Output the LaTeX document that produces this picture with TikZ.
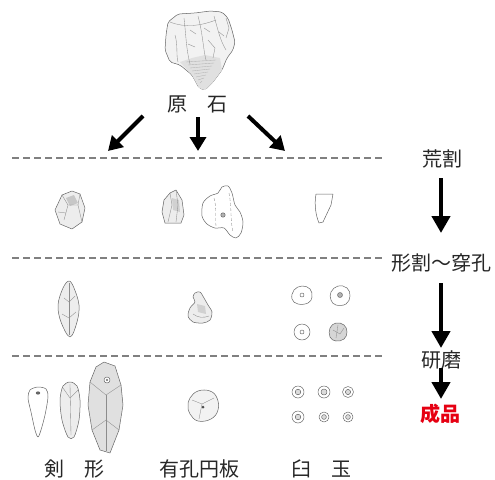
\documentclass[tikz,border=0pt]{standalone}
\usepackage{fontspec}
\newfontfamily\cjk{Noto Sans CJK JP}
\usetikzlibrary{arrows.meta}
\definecolor{stagered}{HTML}{E60012}
\begin{document}
\begin{tikzpicture}[x=1pt,y=-1pt,
  lbl/.style={font=\cjk\fontsize{20}{22}\selectfont, inner sep=0pt, text=black!85},
  sep/.style={draw=black!50, line width=2pt, dash pattern=on 7pt off 4pt},
  stagearrow/.style={line width=4.5pt, -{Triangle[width=18pt,length=17pt]}},
  splitarrow/.style={line width=4pt, -{Triangle[width=16pt,length=14pt]}},
  sk/.style={draw=black!60, line width=0.5pt, line join=round},
  skin/.style={draw=black!45, line width=0.35pt},
  shade/.style={fill=black!7},
  dark/.style={fill=black!16}]
\useasboundingbox (0,0) rectangle (495,479);

% ---------- raw stone ----------
\draw[sk, fill=black!5, rounded corners=2pt] (168,22) -- (178,14) -- (195,13) -- (210,11) -- (222,12)
  -- (228,18) -- (232,30) -- (235,42) -- (233,50) -- (227,58) -- (222,70) -- (213,82)
  -- (205,90) -- (199,88) -- (192,75) -- (180,65) -- (170,62) -- (165,50) -- (166,35) -- cycle;
\fill[black!12] (180,62) -- (192,58) -- (205,55) -- (220,58) -- (222,70) -- (213,82) -- (205,90) -- (199,88) -- (192,75) -- cycle;
\foreach \i in {0,...,7}{
  \draw[skin, black!30] (186+2*\i,62+3*\i) -- (216-2*\i,60+3*\i);
}
\draw[skin] (170,22) .. controls (185,28) and (200,26) .. (216,20);
\draw[skin] (184,18) .. controls (186,35) and (186,48) .. (190,64);
\draw[skin] (198,16) .. controls (203,35) and (203,48) .. (206,60);
\draw[skin] (214,16) .. controls (218,30) and (220,40) .. (226,50);
\draw[skin] (226,18) -- (229,28) -- (226,38);
\draw[skin] (175,35) .. controls (178,45) and (176,55) .. (178,62);
\draw[skin] (208,40) -- (215,48) -- (213,58);
\draw[skin] (190,30) -- (196,34); \draw[skin] (188,44) -- (195,47);
\draw[skin] (204,28) -- (210,32); \draw[skin] (219,32) -- (224,36);
\node[lbl] (raw) at (197,104) {原\hspace{1em}石};

% ---------- splitting arrows ----------
\coordinate (sL) at (143,116);
\coordinate (sM) at (198,117);
\coordinate (sR) at (248,116);
\coordinate (eL) at (108,151);
\coordinate (eM) at (198,151);
\coordinate (eR) at (285,151);
\draw[splitarrow] (sL) -- (eL);
\draw[splitarrow] (sM) -- (eM);
\draw[splitarrow] (sR) -- (eR);

% ---------- stage separators ----------
\coordinate (d1a) at (12,158);  \coordinate (d1b) at (383,158);
\coordinate (d2a) at (12,258);  \coordinate (d2b) at (383,258);
\coordinate (d3a) at (12,356);  \coordinate (d3b) at (383,356);
\draw[sep] (d1a) -- (d1b);
\draw[sep] (d2a) -- (d2b);
\draw[sep] (d3a) -- (d3b);

% ---------- process column ----------
\node[lbl] (p1) at (442,159) {荒割};
\node[lbl] (p2) at (441,263) {形割～穿孔};
\node[lbl] (p3) at (441,360) {研磨};
\node[lbl, text=stagered, font=\cjk\bfseries\fontsize{20}{22}\selectfont] (p4) at (440,414) {成品};
\coordinate (a1s) at (441,178); \coordinate (a1e) at (441,233);
\coordinate (a2s) at (441,283); \coordinate (a2e) at (441,348);
\coordinate (a3s) at (441,368); \coordinate (a3e) at (441,399);
\draw[stagearrow] (a1s) -- (a1e);
\draw[stagearrow] (a2s) -- (a2e);
\draw[stagearrow] (a3s) -- (a3e);

% ---------- rough-split pieces ----------
\draw[sk, shade] (62,195) -- (72,191) -- (80,194) -- (85,208) -- (82,222) -- (72,229) -- (60,224) -- (55,210) -- cycle;
\fill[black!22] (66,198) -- (74,195) -- (78,203) -- (70,206) -- cycle;
\draw[skin] (62,195) -- (68,205) -- (78,205) -- (80,194);
\draw[skin] (68,205) -- (64,220);
\draw[skin] (78,205) -- (82,222);
\draw[skin] (58,212) -- (66,213);

\draw[sk, shade] (170,193) -- (176,190) -- (182,200) -- (184,215) -- (181,223) -- (165,223) -- (162,212) -- (164,200) -- cycle;
\fill[black!18] (172,198) -- (179,200) -- (180,212) -- (173,210) -- cycle;
\draw[skin] (170,193) -- (172,205) -- (168,222);
\draw[skin] (176,190) -- (178,205) -- (176,222);

\draw[sk, fill=white] plot[smooth cycle, tension=0.5] coordinates {(222,187) (228,186) (232,193) (235,205)
  (240,212) (243,222) (241,233) (236,238) (230,235) (224,228) (215,228) (207,224) (202,216)
  (203,203) (210,196) (218,193)};
\draw[skin, densely dashed] (214,198) .. controls (217,208) and (215,218) .. (216,226);
\draw[skin, densely dashed] (229,193) .. controls (232,208) and (230,220) .. (233,232);
\draw[sk, fill=black!30] (223,215) circle (2.2pt);

\draw[sk] (316,194) -- (333,194) -- (331,205) -- (323,222) -- (319,223) .. controls (316,216) and (314,205) .. (316,194) -- cycle;

% ---------- shaped / drilled pieces ----------
\draw[sk, shade] plot[smooth cycle, tension=0.6] coordinates {(69,281) (74,288) (79,305) (77,322)
  (70,337) (61,322) (58,305) (63,288)};
\draw[skin] (69,283) -- (69,335);
\draw[skin] (64,298) -- (69,302) -- (75,296);
\draw[skin] (62,314) -- (69,318) -- (76,312);

\draw[sk, shade] plot[smooth cycle, tension=0.5] coordinates {(195,293) (200,292) (204,298) (208,305)
  (212,312) (210,320) (203,323) (193,322) (188,316) (190,308) (195,302) (193,297)};
\fill[black!18] (197,304) -- (205,306) -- (206,314) -- (198,312) -- cycle;
\draw[skin] (193,314) .. controls (198,318) and (204,318) .. (209,316);

\draw[sk] plot[smooth cycle, tension=0.7] coordinates {(294,290) (302,286) (310,289) (312,297) (308,303) (298,304) (292,299)};
\draw[sk] (302,295) circle (2pt);
\draw[sk] plot[smooth cycle, tension=0.7] coordinates {(331,292) (338,286) (347,288) (350,296) (346,304) (336,305) (331,300)};
\draw[sk, fill=black!30] (340,295) circle (2.5pt);
\draw[sk] (302,332) circle (8pt);
\draw[sk] (302,332) circle (2pt);
\draw[sk, dark] plot[smooth cycle, tension=0.7] coordinates {(330,328) (336,323) (344,325) (347,332) (344,339) (336,341) (330,337)};
\draw[skin] (333,330) -- (340,334) -- (344,328);
\draw[skin] (338,325) -- (336,338);

% ---------- finished goods ----------
\draw[sk, fill=white] plot[smooth cycle, tension=0.5] coordinates {(30,390) (38,387) (46,389) (48,397)
  (45,415) (41,430) (38,437) (35,430) (31,412) (28,398)};
\fill[black!60] (38,393) ellipse (2.2pt and 1.6pt);

\draw[sk, shade] plot[smooth cycle, tension=0.5] coordinates {(70,382) (77,386) (80,400) (79,420)
  (74,437) (68,437) (62,420) (60,400) (63,386)};
\draw[skin] (70,384) -- (71,435);
\draw[skin] (63,388) -- (70,398) -- (78,390);

\draw[sk, fill=black!12] (104,362) -- (115,366) -- (121,385) -- (123,405) -- (119,430) -- (110,453)
  -- (100,450) -- (92,430) -- (88,405) -- (90,382) -- (96,367) -- cycle;
\draw[skin] (90,382) -- (106,395) -- (121,385);
\draw[skin] (106,395) -- (106,451);
\draw[skin] (92,430) -- (106,420) -- (119,430);
\draw[sk, fill=white] (107,380) circle (3pt);
\fill[black!60] (107,380) circle (1.2pt);

\draw[sk, fill=black!5] plot[smooth cycle, tension=0.7] coordinates {(190,398) (198,391) (210,391)
  (217,398) (218,410) (211,419) (198,421) (190,414) (188,406)};
\draw[skin] (192,400) -- (202,404) -- (214,398);
\draw[skin] (202,404) -- (199,419);
\fill[black!70] (203,407) circle (1.5pt);

\foreach \bx/\by/\br/\bh in {298/392/6/2.8, 324/392/6/3, 348/392/5.5/2.6,
                             298/417/6/2.8, 324/417/5/2.4, 348/417/5/2.4}{
  \draw[sk] (\bx,\by) circle (\br pt);
  \draw[sk, fill=black!14] (\bx,\by) circle (\bh pt);
}

% ---------- product names ----------
\node[lbl] (ken) at (74,469) {剣\hspace{1em}形};
\node[lbl] (disk) at (199,469) {有孔円板};
\node[lbl] (usu) at (321,469) {臼\hspace{1em}玉};
\end{tikzpicture}
\end{document}
